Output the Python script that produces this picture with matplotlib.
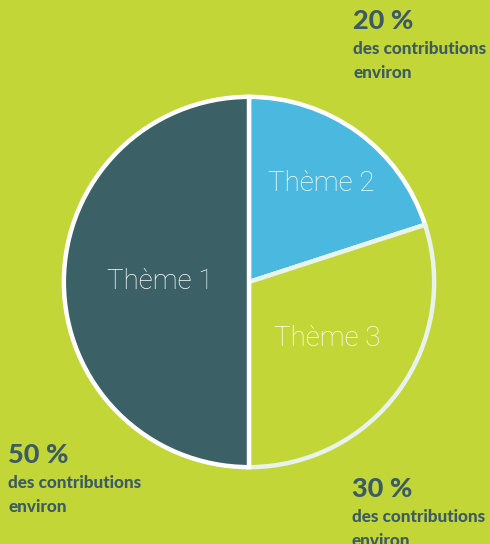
import matplotlib.pyplot as plt
import numpy as np

themes = ['Thème 1', 'Thème 2', 'Thème 3']
shares = [50, 20, 30]
colors = ['#3b6066', '#4bb8df', '#c2d638']
edges = ['white', 'white', '#e8f3ee']
label_r = [0.48, 0.66, 0.52]

notes = ['50 %', '20 %', '30 %']
note_sub = 'des contributions\nenviron'

bg = '#c2d638'
dark = '#3d5b62'
W, H = 490, 544

fig = plt.figure(figsize=(W / 100, H / 100), dpi=100, facecolor=bg)
cx, cy, r = 249, 282, 187
ax = fig.add_axes([(cx - r) / W, (H - cy - r) / H, 2 * r / W, 2 * r / H])
ax.set_facecolor(bg)

# clockwise from top: Thème 2, Thème 3, then Thème 1
order = [1, 2, 0]
wedges, _ = ax.pie([shares[i] for i in order], colors=[colors[i] for i in order],
                   startangle=90, counterclock=False, radius=1.0,
                   wedgeprops=dict(linewidth=3.2))
for w, i in zip(wedges, order):
    w.set_edgecolor(edges[i])
    mid = np.deg2rad((w.theta1 + w.theta2) / 2)
    ax.text(label_r[i] * np.cos(mid), label_r[i] * np.sin(mid), themes[i],
            ha='center', va='center', color='white', fontsize=20,
            family='Roboto', weight='light')
ax.set_xlim(-1.01, 1.01)
ax.set_ylim(-1.01, 1.01)
ax.set_aspect('equal')
ax.axis('off')

note_pos = [(8, 455), (353, 21), (352, 489)]
for txt, (x, y) in zip(notes, note_pos):
    fig.text(x / W, 1 - y / H, txt, ha='left', va='center', color=dark,
             fontsize=19.5, family='Lato', weight='black')
    fig.text(x / W, 1 - (y + 20) / H, note_sub, ha='left', va='top', color=dark,
             fontsize=12.3, family='Lato', weight='black', linespacing=1.65)

fig.savefig('out.png', dpi=100, facecolor=bg)
